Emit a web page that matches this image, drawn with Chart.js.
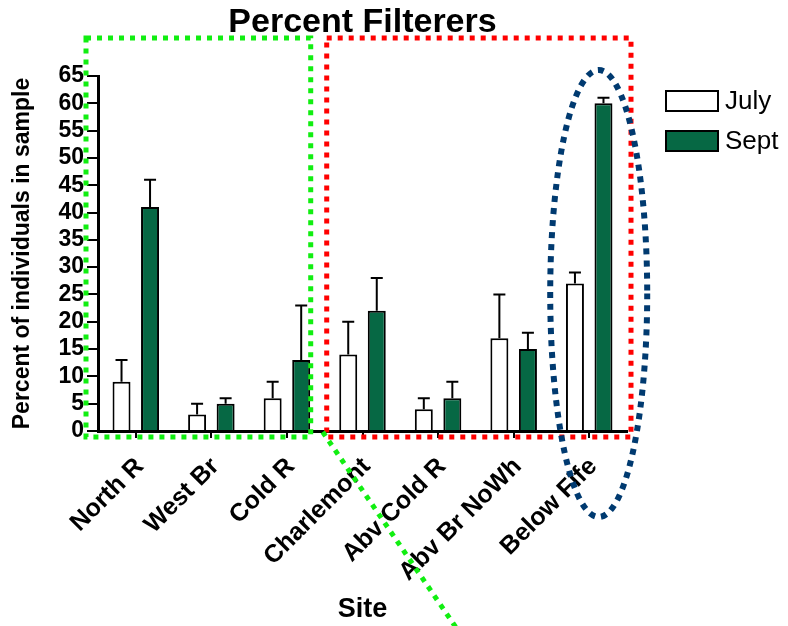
<!DOCTYPE html>
<html>
<head>
<meta charset="utf-8">
<script src="https://cdn.jsdelivr.net/npm/chart.js@4.4.0/dist/chart.umd.min.js"></script>
<style>
  html, body { margin: 0; padding: 0; background: #ffffff; }
  canvas { display: block; }
</style>
</head>
<body>
<canvas id="chart" width="788" height="626"></canvas>
<script>
// Sites sampled and the mean percent of filterers per sample, with upper error
const sites = ['North R', 'West Br', 'Cold R', 'Charlemont', 'Abv Cold R', 'Abv Br NoWh', 'Below Fife'];
const julyPct = [9, 3, 6, 14, 4, 17, 27];
const julyErr = [4, 2, 3, 6, 2, 8, 2];
const septPct = [41, 5, 13, 22, 6, 15, 60];
const septErr = [5, 1, 10, 6, 3, 3, 1];
const yTickValues = [0, 5, 10, 15, 20, 25, 30, 35, 40, 45, 50, 55, 60, 65];

const FONT = "'Liberation Sans', Arial, Helvetica, sans-serif";
const SEPT_GREEN = '#066844';

// Upper-only error bars with a short cap, drawn on top of each bar
const errorBars = {
  id: 'errorBars',
  afterDatasetsDraw(chart) {
    const ctx = chart.ctx;
    const yScale = chart.scales.y;
    chart.data.datasets.forEach((ds, di) => {
      const meta = chart.getDatasetMeta(di);
      meta.data.forEach((bar, i) => {
        const top = yScale.getPixelForValue(ds.data[i] + ds.errors[i]);
        ctx.save();
        ctx.strokeStyle = '#000';
        ctx.lineWidth = 2;
        ctx.beginPath();
        ctx.moveTo(bar.x, bar.y);
        ctx.lineTo(bar.x, top);
        ctx.moveTo(bar.x - 6, top);
        ctx.lineTo(bar.x + 6, top);
        ctx.stroke();
        ctx.restore();
      });
    });
  }
};

// Legend boxes to the right of the plot
const sideLegend = {
  id: 'sideLegend',
  afterDraw(chart) {
    const ctx = chart.ctx;
    const ca = chart.chartArea;
    const x0 = ca.right + 39;
    chart.data.datasets.forEach((ds, i) => {
      const y0 = ca.top + 15 + i * 40;
      ctx.save();
      ctx.fillStyle = ds.backgroundColor;
      ctx.fillRect(x0, y0, 52, 20);
      ctx.strokeStyle = '#000';
      ctx.lineWidth = 2;
      ctx.strokeRect(x0, y0, 52, 20);
      ctx.fillStyle = '#000';
      ctx.font = '26px ' + FONT;
      ctx.textBaseline = 'middle';
      ctx.textAlign = 'left';
      ctx.fillText(ds.label, x0 + 59, y0 + 11);
      ctx.restore();
    });
  }
};

// Dotted outlines grouping the sites, plus the circled site on the right
const groupOutlines = {
  id: 'groupOutlines',
  afterDraw(chart) {
    const ctx = chart.ctx;
    const ca = chart.chartArea;
    const xs = chart.scales.x;
    const split = xs.getPixelForValue(2.5);
    const top = ca.top - 38;
    const bottom = ca.bottom + 6;

    ctx.save();
    ctx.lineCap = 'butt';

    // tributary group
    ctx.strokeStyle = '#11EE11';
    ctx.lineWidth = 5;
    ctx.setLineDash([5, 6]);
    ctx.strokeRect(ca.left - 12, top, (split - 14) - (ca.left - 12), bottom - top);

    // main-stem group
    ctx.strokeStyle = '#FF0000';
    ctx.strokeRect(split + 2, top, (ca.right + 4) - (split + 2), bottom - top);

    // connector running off the bottom edge
    ctx.strokeStyle = '#11EE11';
    ctx.beginPath();
    ctx.moveTo(split - 2, ca.bottom + 1);
    ctx.lineTo(split - 2 + 137, ca.bottom + 1 + 201);
    ctx.stroke();

    // ellipse around the last site
    const cx = xs.getPixelForValue(6) + 9.5;
    ctx.strokeStyle = '#003A70';
    ctx.lineWidth = 6;
    ctx.setLineDash([6, 6]);
    ctx.beginPath();
    ctx.ellipse(cx, ca.bottom - 137.5, 48.5, 223.5, 0, 0, Math.PI * 2);
    ctx.stroke();
    ctx.restore();
  }
};

new Chart(document.getElementById('chart'), {
  type: 'bar',
  data: {
    labels: sites,
    datasets: [
      {
        label: 'July',
        data: julyPct,
        errors: julyErr,
        backgroundColor: '#ffffff',
        borderColor: '#000000',
        borderWidth: 2,
        barPercentage: 0.63,
        categoryPercentage: 0.755
      },
      {
        label: 'Sept',
        data: septPct,
        errors: septErr,
        backgroundColor: SEPT_GREEN,
        borderColor: '#000000',
        borderWidth: 2,
        barPercentage: 0.63,
        categoryPercentage: 0.755
      }
    ]
  },
  options: {
    responsive: false,
    animation: false,
    layout: { padding: { left: 8, right: 161, top: 0, bottom: 0 } },
    plugins: {
      legend: { display: false },
      tooltip: { enabled: false },
      title: {
        display: true,
        text: 'Percent Filterers',
        fullSize: false,
        color: '#000',
        font: { family: FONT, size: 34, weight: 'bold' },
        padding: { top: 2, bottom: 33.2 }
      }
    },
    scales: {
      x: {
        offset: true,
        grid: {
          display: true,
          offset: false,
          drawOnChartArea: false,
          drawTicks: true,
          tickLength: 7,
          color: '#000',
          lineWidth: 2
        },
        border: { display: true, color: '#000', width: 3 },
        ticks: {
          autoSkip: false,
          minRotation: 45,
          maxRotation: 45,
          padding: 14,
          labelOffset: 4,
          color: '#000',
          font: { family: FONT, size: 25, weight: 'bold' }
        },
        title: {
          display: true,
          text: 'Site',
          color: '#000',
          font: { family: FONT, size: 27, weight: 'bold' },
          padding: 0
        },
        afterFit(scale) { scale.height = 195; }
      },
      y: {
        min: 0,
        max: 65,
        grid: {
          display: true,
          drawOnChartArea: false,
          drawTicks: true,
          tickLength: 11,
          color: '#000',
          lineWidth: 2
        },
        border: { display: true, color: '#000', width: 3 },
        ticks: {
          autoSkip: false,
          padding: 3,
          color: '#000',
          font: { family: FONT, size: 23, weight: 'bold' }
        },
        afterBuildTicks(scale) {
          scale.ticks = yTickValues.map(v => ({ value: v }));
        },
        title: {
          display: true,
          text: 'Percent of individuals in sample',
          color: '#000',
          font: { family: FONT, size: 23, weight: 'bold' },
          padding: { top: 1, bottom: 0 }
        },
        afterFit(scale) { scale.width = 90; }
      }
    }
  },
  plugins: [errorBars, groupOutlines, sideLegend]
});
</script>
</body>
</html>
